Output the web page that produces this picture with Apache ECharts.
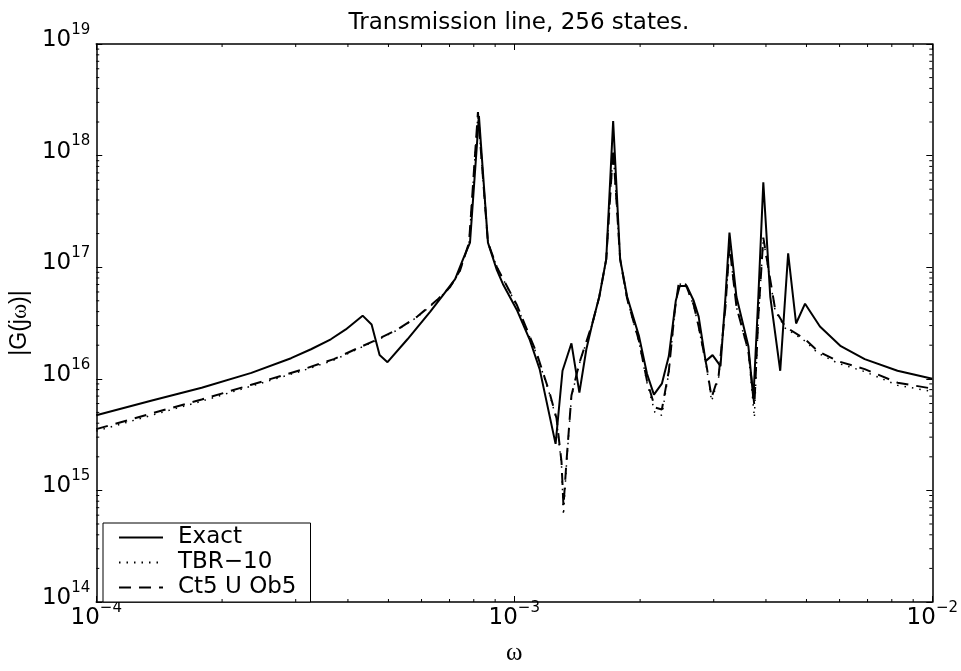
<!DOCTYPE html>
<html><head><meta charset="utf-8">
<script src="https://cdn.jsdelivr.net/npm/echarts@6/dist/echarts.min.js"></script>
<style>html,body{margin:0;padding:0;background:#fff}#c{width:961px;height:671px}</style>
</head><body><div id="c"></div>
<script>
// ---------- data ----------
const omegaExact = [1e-4,1.359e-4,1.787e-4,2.350e-4,2.924e-4,3.264e-4,3.640e-4,3.953e-4,4.337e-4,4.557e-4,4.762e-4,4.974e-4,5.552e-4,6.295e-4,6.761e-4,7.219e-4,7.542e-4,7.835e-4,8.231e-4,8.650e-4,9.087e-4,9.391e-4,1.0137e-3,1.0878e-3,1.1499e-3,1.2555e-3,1.3043e-3,1.3700e-3,1.4314e-3,1.4873e-3,1.5372e-3,1.5970e-3,1.6595e-3,1.7239e-3,1.7916e-3,1.8621e-3,1.9883e-3,2.0772e-3,2.1580e-3,2.2545e-3,2.3428e-3,2.4340e-3,2.4880e-3,2.5855e-3,2.6864e-3,2.7610e-3,2.8687e-3,2.9808e-3,3.1141e-3,3.2006e-3,3.2715e-3,3.3997e-3,3.6308e-3,3.7318e-3,3.8356e-3,3.9422e-3,4.0963e-3,4.3270e-3,4.520e-3,4.722e-3,4.961e-3,5.385e-3,6.041e-3,6.891e-3,8.255e-3,1e-2];
const gExact = [4.71e15,6.38e15,8.32e15,1.13e16,1.53e16,1.84e16,2.26e16,2.77e16,3.68e16,3.07e16,1.63e16,1.41e16,2.26e16,4.00e16,5.65e16,7.83e16,1.18e17,1.66e17,2.26e18,1.66e17,9.40e16,7.08e16,4.16e16,2.26e16,1.22e16,2.61e15,1.18e16,2.08e16,7.52e15,1.84e16,3.13e16,5.43e16,1.18e17,2.04e18,1.18e17,5.43e16,2.40e16,1.11e16,7.21e15,9.04e15,1.60e16,5.0e16,6.8e16,6.8e16,5.0e16,3.61e16,1.44e16,1.63e16,1.30e16,5.43e16,2.04e17,5.43e16,1.96e16,6.65e15,5.43e16,5.77e17,5.43e16,1.18e16,1.33e17,3.13e16,4.71e16,2.94e16,1.96e16,1.50e16,1.18e16,1.0e16];

const omegaReduced = [1e-4,1.359e-4,1.787e-4,2.350e-4,3.090e-4,3.701e-4,4.221e-4,4.710e-4,5.255e-4,5.862e-4,6.541e-4,7.023e-4,7.421e-4,7.795e-4,8.186e-4,8.650e-4,9.087e-4,1.0137e-3,1.131e-3,1.2145e-3,1.2619e-3,1.2970e-3,1.3112e-3,1.3330e-3,1.3700e-3,1.4314e-3,1.5372e-3,1.5970e-3,1.6595e-3,1.7239e-3,1.7916e-3,1.8621e-3,1.9883e-3,2.0772e-3,2.1699e-3,2.2545e-3,2.3428e-3,2.4210e-3,2.4741e-3,2.5710e-3,2.6864e-3,2.7610e-3,2.8845e-3,2.9648e-3,3.0818e-3,3.2006e-3,3.2715e-3,3.3997e-3,3.6308e-3,3.7526e-3,3.8356e-3,3.9422e-3,4.209e-3,4.446e-3,4.961e-3,5.326e-3,5.942e-3,6.891e-3,8.255e-3,1e-2];
const gCt5 = [3.54e15,4.90e15,6.52e15,8.85e15,1.20e16,1.50e16,1.88e16,2.26e16,2.77e16,3.61e16,5.10e16,6.65e16,9.40e16,1.66e17,2.45e18,1.66e17,1.00e17,4.61e16,1.70e16,7.52e15,4.43e15,1.81e15,7.2e14,1.81e15,7.08e15,1.39e16,3.13e16,5.43e16,1.18e17,1.15e18,1.18e17,5.21e16,2.17e16,9.60e15,5.53e15,5.31e15,1.18e16,4.1e16,7.2e16,7.0e16,4.6e16,2.94e16,1.30e16,6.79e15,1.06e16,4.43e16,1.57e17,4.43e16,1.77e16,5.77e15,3.61e16,1.84e17,4.16e16,2.94e16,2.26e16,1.77e16,1.44e16,1.22e16,9.23e15,8.17e15];
const gTBR = [3.40e15,4.72e15,6.30e15,8.60e15,1.17e16,1.47e16,1.85e16,2.23e16,2.74e16,3.58e16,5.05e16,6.60e16,9.30e16,1.65e17,2.35e18,1.66e17,1.0e17,4.55e16,1.66e16,7.3e15,4.3e15,1.7e15,6.0e14,1.7e15,6.9e15,1.37e16,3.10e16,5.40e16,1.18e17,1.10e18,1.18e17,5.15e16,2.13e16,9.2e15,5.0e15,4.7e15,1.15e16,4.05e16,7.1e16,6.9e16,4.55e16,2.9e16,1.25e16,6.3e15,1.02e16,4.4e16,1.55e17,4.4e16,1.72e16,4.5e15,3.5e16,1.80e17,4.05e16,2.85e16,2.18e16,1.70e16,1.38e16,1.16e16,8.75e15,7.7e15];

const seriesNames = ['Exact', 'TBR\u221210', 'Ct5 U Ob5'];
const xRange = [1e-4, 1e-2];
const yRange = [1e14, 1e19];
const minorMultipliers = [2,3,4,5,6,7,8,9];
const xDecades = [1e-4, 1e-3];
const yDecades = [1e14, 1e15, 1e16, 1e17, 1e18];
const titleText = 'Transmission line, 256 states.';

// ---------- chart ----------
const xMinor = [];
xDecades.forEach(d => minorMultipliers.forEach(m => xMinor.push(d * m)));
const yMinor = [];
yDecades.forEach(d => minorMultipliers.forEach(m => yMinor.push(d * m)));

const SANS = 'DejaVu Sans';
const MINOR_LEN = 3;

function expLabel(v) {
  const e = Math.round(Math.log10(v));
  return '{b|10}{e|' + (e < 0 ? '\u2212' + (-e) : e) + '}';
}
const labelRich = {
  b: { fontFamily: SANS, fontSize: 23, color: '#000', lineHeight: 23, padding: [0, 0, 4, 0], verticalAlign: 'bottom' },
  e: { fontFamily: SANS, fontSize: 15, color: '#000', lineHeight: 15, padding: [0, 0, 18, 0], verticalAlign: 'bottom' }
};
const axisLineStyle = { color: '#000', width: 1.5 };
const tickStyle = { show: true, inside: true, length: 6, lineStyle: { color: '#000', width: 1 } };

function pairs(xs, ys) { return xs.map((x, i) => [x, ys[i]]); }

const chart = echarts.init(document.getElementById('c'), null, { renderer: 'canvas' });
chart.setOption({
  animation: false,
  backgroundColor: '#fff',
  title: {
    text: titleText, left: 514, top: 7, textAlign: 'center',
    textStyle: { fontFamily: SANS, fontSize: 23, fontWeight: 'normal', color: '#000' }
  },
  grid: { left: 94, right: 26, top: 44, bottom: 62, containLabel: false },
  legend: {
    data: seriesNames,
    orient: 'vertical', left: 103, top: 523,
    padding: [3, 14, 3, 15],
    itemGap: 2, itemWidth: 44, itemHeight: 4,
    itemStyle: { opacity: 0, color: 'rgba(0,0,0,0)', borderWidth: 0 },
    backgroundColor: '#fff', borderColor: '#000', borderWidth: 1,
    textStyle: { fontFamily: SANS, fontSize: 23, color: '#000', padding: [0, 0, 0, 10] },
    selectedMode: false
  },
  xAxis: [{
    type: 'log', logBase: 10, min: xRange[0], max: xRange[1],
    axisLine: { show: true, lineStyle: axisLineStyle },
    axisTick: tickStyle, splitLine: { show: false },
    axisLabel: { formatter: expLabel, rich: labelRich, margin: 9, color: '#000' },
    name: '\u03c9', nameLocation: 'middle', nameGap: 39,
    nameTextStyle: { fontFamily: 'Liberation Serif', fontSize: 25, color: '#000' }
  }, {
    type: 'log', logBase: 10, min: xRange[0], max: xRange[1], position: 'top',
    axisLine: { show: true, lineStyle: axisLineStyle },
    axisTick: tickStyle, splitLine: { show: false }, axisLabel: { show: false }
  }],
  yAxis: [{
    type: 'log', logBase: 10, min: yRange[0], max: yRange[1],
    axisLine: { show: true, lineStyle: axisLineStyle },
    axisTick: tickStyle, splitLine: { show: false },
    axisLabel: { formatter: expLabel, rich: labelRich, margin: 6, color: '#000' },
    name: '|G(j{w|\u03c9})|', nameLocation: 'middle', nameGap: 52, nameRotate: 90,
    nameTextStyle: { fontFamily: 'Liberation Sans', fontSize: 23, color: '#000',
      rich: { w: { fontFamily: 'Liberation Serif', fontSize: 23, color: '#000' } } }
  }, {
    type: 'log', logBase: 10, min: yRange[0], max: yRange[1], position: 'right',
    axisLine: { show: true, lineStyle: axisLineStyle },
    axisTick: tickStyle, splitLine: { show: false }, axisLabel: { show: false }
  }],
  series: [{
    name: seriesNames[0], type: 'line', data: pairs(omegaExact, gExact),
    symbol: 'none', color: '#000', lineStyle: { color: '#000', width: 2, type: 'solid' }, z: 3
  }, {
    name: seriesNames[1], type: 'line', data: pairs(omegaReduced, gTBR),
    symbol: 'none', color: '#000', lineStyle: { color: '#000', width: 1.5, type: [1.5, 6] }, z: 3
  }, {
    name: seriesNames[2], type: 'line', data: pairs(omegaReduced, gCt5),
    symbol: 'none', color: '#000', lineStyle: { color: '#000', width: 2, type: [12, 8] }, z: 3
  }, {
    type: 'custom', silent: true, z: 4,
    data: xMinor.map(v => [v, yRange[0]]),
    encode: { x: 0, y: 1 },
    renderItem: function (params, api) {
      const v = api.value(0);
      const b = api.coord([v, yRange[0]]);
      const t = api.coord([v, yRange[1]]);
      const st = { stroke: '#000', lineWidth: 1 };
      return { type: 'group', children: [
        { type: 'line', shape: { x1: b[0], y1: b[1], x2: b[0], y2: b[1] - MINOR_LEN }, style: st },
        { type: 'line', shape: { x1: t[0], y1: t[1], x2: t[0], y2: t[1] + MINOR_LEN }, style: st }
      ] };
    }
  }, {
    type: 'custom', silent: true, z: 4,
    data: yMinor.map(v => [xRange[0], v]),
    encode: { x: 0, y: 1 },
    renderItem: function (params, api) {
      const v = api.value(1);
      const l = api.coord([xRange[0], v]);
      const r = api.coord([xRange[1], v]);
      const st = { stroke: '#000', lineWidth: 1 };
      return { type: 'group', children: [
        { type: 'line', shape: { x1: l[0], y1: l[1], x2: l[0] + MINOR_LEN, y2: l[1] }, style: st },
        { type: 'line', shape: { x1: r[0], y1: r[1], x2: r[0] - MINOR_LEN, y2: r[1] }, style: st }
      ] };
    }
  }]
});
</script></body></html>
